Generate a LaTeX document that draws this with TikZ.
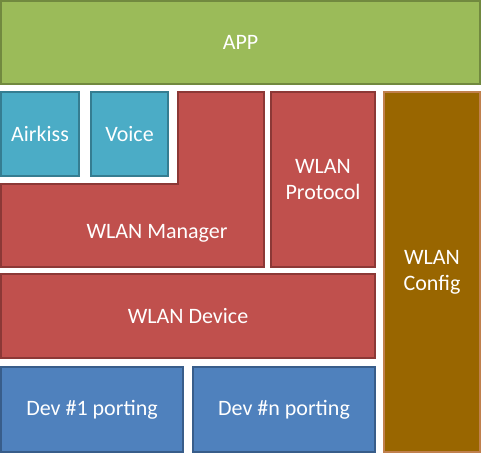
\documentclass[tikz,border=0pt]{standalone}
\usepackage{fontspec}
\setmainfont{Carlito}
\definecolor{appfill}{HTML}{9BBB59}
\definecolor{appline}{HTML}{71893F}
\definecolor{tealfill}{HTML}{4BACC6}
\definecolor{tealline}{HTML}{357D91}
\definecolor{redfill}{HTML}{C0504D}
\definecolor{redline}{HTML}{8C3836}
\definecolor{bluefill}{HTML}{4F81BD}
\definecolor{blueline}{HTML}{385D8A}
\definecolor{cfgfill}{HTML}{996600}
\definecolor{cfgline}{HTML}{C0804D}
\tikzset{
    layer/.style={line width=1.5pt, line join=miter},
    label/.style={text=white, align=center, font=\fontsize{22}{26}\selectfont}
}
\begin{document}
\begin{tikzpicture}[x=1pt, y=-1pt]
            \useasboundingbox (0,0) rectangle (482,453);

            % application on top
            \draw[layer, draw=appline, fill=appfill] (1,1) rectangle (480,84) node[midway, label] (app) {APP};

            % small services
            \draw[layer, draw=tealline, fill=tealfill] (1,92) rectangle (79,176) node[midway, label] (airkiss) {Airkiss};
            \draw[layer, draw=tealline, fill=tealfill] (91,92) rectangle (168,176) node[midway, label] (voice) {Voice};

            % manager (L shape)
            \draw[layer, draw=redline, fill=redfill] (178,92) -- (264,92) -- (264,267) -- (1,267) -- (1,184) -- (178,184) -- cycle;
            \node[label] (manager) at (157,233) {WLAN Manager};

            % protocol
            \draw[layer, draw=redline, fill=redfill] (271,92) rectangle (375,267) node[midway, label] (protocol) {WLAN\\Protocol};

            % device
            \draw[layer, draw=redline, fill=redfill] (1,274) rectangle (375,358) node[midway, label] (device) {WLAN Device};

            % porting
            \draw[layer, draw=blueline, fill=bluefill] (1,367) rectangle (183,452) node[midway, label] (dev1) {Dev \#1 porting};
            \draw[layer, draw=blueline, fill=bluefill] (193,367) rectangle (375,452) node[midway, label] (devn) {Dev \#n porting};

            % config column
            \draw[layer, draw=cfgline, fill=cfgfill] (384,92) rectangle (480,452) node[midway, label] (config) {WLAN\\Config};
        \end{tikzpicture}
\end{document}
